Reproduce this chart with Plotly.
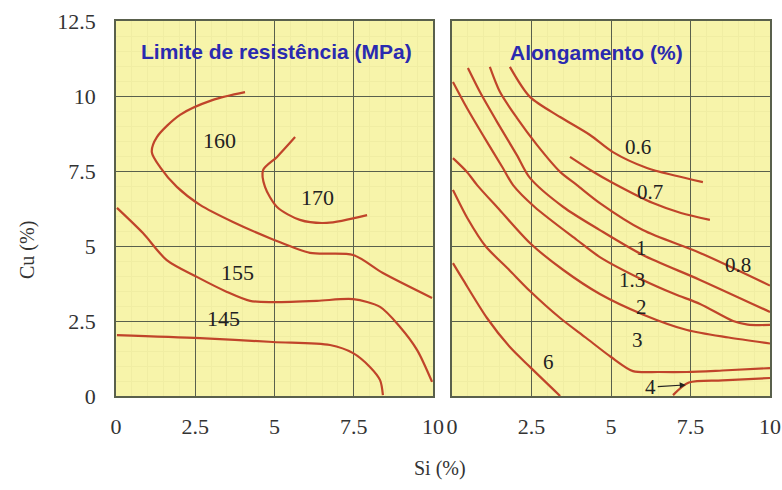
import plotly.graph_objects as go

# ---------------- data: left panel (Limite de resistência, MPa) ----------------
c160_x = [4.07, 3.06, 2.02, 1.29, 1.13, 1.39, 1.92, 2.65, 3.69, 4.95, 6.12, 7.48, 8.42, 9.97]
c160_y = [10.13, 9.87, 9.37, 8.63, 8.13, 7.63, 6.97, 6.37, 5.8, 5.22, 4.77, 4.7, 4.1, 3.27]
c170_x = [5.65, 5.08, 4.64, 4.7, 5.08, 5.8, 6.65, 7.92]
c170_y = [8.63, 7.97, 7.53, 6.97, 6.3, 5.87, 5.77, 6.03]
c155_x = [0.03, 0.85, 1.6, 2.55, 3.5, 4.23, 4.95, 6.34, 7.48, 8.33, 8.96, 9.5, 9.97]
c155_y = [6.27, 5.43, 4.53, 3.97, 3.47, 3.17, 3.13, 3.17, 3.23, 2.97, 2.3, 1.53, 0.47]
c145_x = [0.03, 2.65, 4.95, 6.75, 7.48, 8.01, 8.33, 8.42]
c145_y = [2.03, 1.93, 1.8, 1.7, 1.43, 0.97, 0.53, 0.03]

left_labels = ["160", "170", "155", "145"]
left_lab_x = [3.28, 6.37, 3.82, 3.38]
left_lab_y = [8.53, 6.63, 4.13, 2.57]

# ---------------- data: right panel (Alongamento, %) ----------------
e06_x = [1.82, 2.45, 3.4, 4.34, 5.06, 6.13, 7.0, 7.89]
e06_y = [10.97, 9.97, 9.3, 8.7, 8.13, 7.6, 7.35, 7.13]
e07_x = [3.71, 4.4, 5.06, 6.32, 7.2, 8.11]
e07_y = [7.97, 7.5, 7.1, 6.43, 6.1, 5.87]
e08_x = [1.19, 1.51, 2.04, 2.67, 3.4, 3.93, 4.65, 6.0, 7.8, 10.0]
e08_y = [10.97, 10.13, 9.27, 8.37, 7.47, 7.03, 6.43, 5.53, 4.77, 3.68]
e1_x = [0.5, 0.88, 1.42, 2.04, 2.45, 3.5, 4.65, 6.0, 7.8, 10.0]
e1_y = [10.93, 10.13, 9.13, 8.03, 7.27, 6.3, 5.53, 4.7, 3.87, 2.8]
e13_x = [0.03, 0.47, 1.1, 1.6, 1.92, 2.6, 3.93, 4.65, 6.0, 7.0, 7.8, 8.84, 9.3, 10.0]
e13_y = [10.47, 9.6, 8.47, 7.6, 7.03, 6.3, 5.2, 4.63, 3.87, 3.4, 3.07, 2.5, 2.38, 2.37]
e2_x = [0.03, 0.47, 0.79, 1.5, 2.45, 3.5, 4.65, 6.0, 7.39, 8.7, 10.0]
e2_y = [7.93, 7.47, 7.03, 6.2, 5.1, 4.2, 3.4, 2.72, 2.2, 1.95, 1.75]
e3_x = [0.03, 0.5, 1.05, 1.8, 2.45, 3.4, 4.2, 5.0, 5.69, 6.5, 7.39, 8.5, 10.0]
e3_y = [6.87, 5.9, 5.0, 4.2, 3.5, 2.6, 1.95, 1.3, 0.83, 0.8, 0.8, 0.85, 0.93]
e4_x = [6.95, 7.45, 8.5, 10.0]
e4_y = [0.03, 0.45, 0.52, 0.6]
e6_x = [0.03, 0.35, 1.1, 1.82, 2.45, 3.4]
e6_y = [4.43, 3.87, 2.6, 1.63, 0.97, 0.0]

right_labels = ["0.6", "0.7", "1", "0.8", "1.3", "2", "3", "6"]
right_lab_x = [5.85, 6.23, 5.97, 9.0, 5.66, 5.97, 5.82, 3.02]
right_lab_y = [8.3, 6.8, 4.93, 4.37, 3.87, 2.97, 1.87, 1.13]

label4_text = "4"
label4_x = 6.25
label4_y = 0.3
arrow4_x = 7.35
arrow4_y = 0.37

tick_vals = [0, 2.5, 5, 7.5, 10, 12.5]
tick_text = ["0", "2.5", "5", "7.5", "10", "12.5"]

title_left = "Limite de resistência (MPa)"
title_right = "Alongamento (%)"
xlabel = "Si (%)"
ylabel = "Cu (%)"

# ---------------- styling ----------------
LINE = "#C0442A"
BG = "#F7F4AA"
GRID = "#59604C"
SERIF = "Liberation Serif, Times New Roman, serif"
SANS = "Liberation Sans, Arial, sans-serif"

fig = go.Figure()

left_curves = [(c160_x, c160_y), (c170_x, c170_y), (c155_x, c155_y), (c145_x, c145_y)]
for cx, cy in left_curves:
    fig.add_trace(go.Scatter(x=cx, y=cy, mode="lines", xaxis="x", yaxis="y",
                             line=dict(color=LINE, width=2.2, shape="spline", smoothing=0.8),
                             hoverinfo="skip", showlegend=False))

right_curves = [(e06_x, e06_y), (e07_x, e07_y), (e08_x, e08_y), (e1_x, e1_y), (e13_x, e13_y),
                (e2_x, e2_y), (e3_x, e3_y), (e4_x, e4_y), (e6_x, e6_y)]
for cx, cy in right_curves:
    fig.add_trace(go.Scatter(x=cx, y=cy, mode="lines", xaxis="x2", yaxis="y2",
                             line=dict(color=LINE, width=2.2, shape="spline", smoothing=0.8),
                             hoverinfo="skip", showlegend=False))

annotations = []
for t, lx, ly in zip(left_labels, left_lab_x, left_lab_y):
    annotations.append(dict(x=lx, y=ly, xref="x", yref="y", text=t, showarrow=False,
                            font=dict(family=SERIF, size=22, color="#222")))
for t, lx, ly in zip(right_labels, right_lab_x, right_lab_y):
    annotations.append(dict(x=lx, y=ly, xref="x2", yref="y2", text=t, showarrow=False,
                            font=dict(family=SERIF, size=21, color="#222")))
annotations.append(dict(x=arrow4_x, y=arrow4_y, xref="x2", yref="y2", ax=label4_x, ay=label4_y,
                        axref="x2", ayref="y2", text=label4_text, showarrow=True,
                        arrowhead=2, arrowsize=1, arrowwidth=1.2, arrowcolor="#222",
                        font=dict(family=SERIF, size=21, color="#222")))
annotations.append(dict(x=5.05, y=11.48, xref="x", yref="y", text="<b>" + title_left + "</b>",
                        showarrow=False, font=dict(family=SANS, size=21, color="#2A2AB0")))
annotations.append(dict(x=4.53, y=11.45, xref="x2", yref="y2", text="<b>" + title_right + "</b>",
                        showarrow=False, font=dict(family=SANS, size=21, color="#2A2AB0")))
annotations.append(dict(x=440 / 782, y=(490 - 468) / 490, xref="paper", yref="paper", text=xlabel,
                        xanchor="center", yanchor="middle",
                        showarrow=False, font=dict(family=SERIF, size=20, color="#333")))
annotations.append(dict(x=27 / 782, y=(490 - 250) / 490, xref="paper", yref="paper", text=ylabel,
                        xanchor="center", yanchor="middle",
                        textangle=-90, showarrow=False, font=dict(family=SERIF, size=20, color="#333")))

def xaxis_cfg(domain, anchor):
    return dict(domain=domain, range=[0, 10], tickvals=tick_vals[:5], ticktext=tick_text[:5],
                anchor=anchor, automargin=False,
                showgrid=True, gridcolor=GRID, gridwidth=1.3, zeroline=False,
                showline=True, linecolor=GRID, linewidth=1.6, mirror=True,
                ticks="", ticklabelstandoff=10,
                tickfont=dict(family=SERIF, size=22, color="#333"),
                minor=dict(dtick=0.5, showgrid=True, gridcolor="#F0EDA3", gridwidth=1),
                fixedrange=True)

def yaxis_cfg(domain, anchor, show):
    return dict(domain=domain, range=[0, 12.5], tickvals=tick_vals, ticktext=tick_text,
                anchor=anchor, automargin=False,
                showgrid=True, gridcolor=GRID, gridwidth=1.3, zeroline=False,
                showline=True, linecolor=GRID, linewidth=1.6, mirror=True,
                ticks="", showticklabels=show, ticklabelstandoff=14,
                tickfont=dict(family=SERIF, size=22, color="#333"),
                minor=dict(dtick=0.5, showgrid=True, gridcolor="#F0EDA3", gridwidth=1),
                fixedrange=True)

ydom = [(490 - 396) / 490, (490 - 21) / 490]
fig.update_layout(
    width=782, height=490,
    margin=dict(l=0, r=0, t=0, b=0, pad=0, autoexpand=False),
    paper_bgcolor="white", plot_bgcolor=BG,
    xaxis=xaxis_cfg([116 / 782, 433 / 782], "y"),
    yaxis=yaxis_cfg(ydom, "x", True),
    xaxis2=xaxis_cfg([452 / 782, 770 / 782], "y2"),
    yaxis2=yaxis_cfg(ydom, "x2", False),
    annotations=annotations,
    showlegend=False,
)

fig.write_html("out.html")
